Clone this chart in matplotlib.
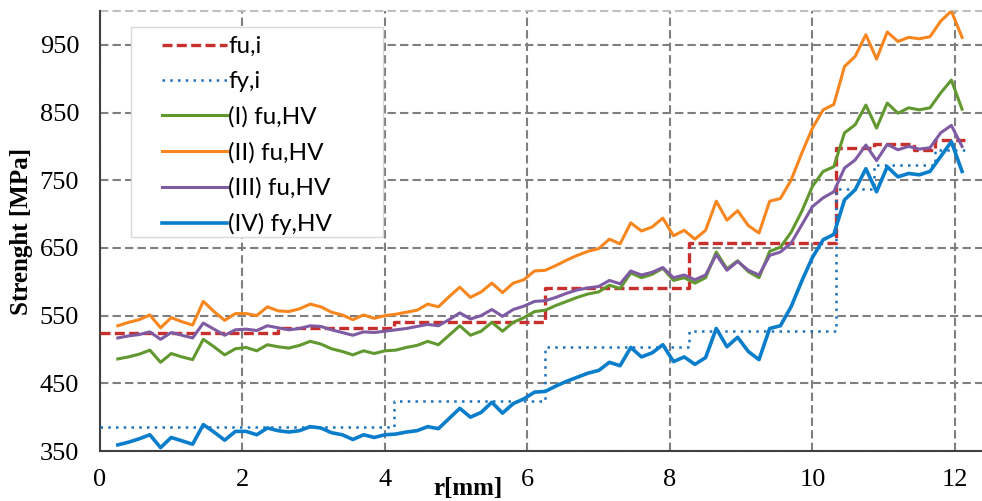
import numpy as np
import matplotlib
matplotlib.use("Agg")
import matplotlib.pyplot as plt
from matplotlib.patches import Rectangle

# radius of the hardness readings, mm (step 0.15)
r_mm = np.round(0.25 + 0.15 * np.arange(80), 2)

# (I) fu,HV
fu_hv1 = [486, 489, 493, 499, 481, 494, 489, 485, 515, 504, 492, 501, 503, 498, 507, 504,
          502, 506, 512, 508, 501, 497, 492, 498, 494, 498, 499, 503, 506, 512, 507, 521, 535,
          521, 527, 540, 527, 540, 547, 556, 558, 565, 571, 577, 582, 585, 595, 590, 613,
          606, 611, 620, 602, 606, 598, 606, 644, 619, 631, 615, 606, 645, 651, 673, 704,
          741, 763, 770, 820, 832, 861, 827, 864, 849, 857, 854, 857, 879, 898, 855]
# (II) fu,HV
fu_hv2 = [535, 540, 544, 551, 532, 547, 541, 536, 571, 556, 543, 553, 553, 550, 563, 557,
          556, 560, 567, 563, 555, 551, 544, 551, 546, 550, 552, 555, 558, 567, 563, 578, 592,
          577, 585, 598, 584, 598, 603, 616, 617, 624, 632, 639, 645, 649, 663, 656, 687,
          675, 681, 694, 668, 676, 663, 676, 719, 691, 705, 683, 672, 719, 723, 750, 790,
          827, 854, 862, 918, 933, 965, 929, 969, 955, 961, 959, 962, 985, 1000, 961]
# (III) fu,HV
fu_hv3 = [517, 520, 522, 526, 515, 525, 521, 517, 539, 530, 521, 529, 530, 528, 535, 532,
          529, 531, 535, 534, 529, 525, 521, 526, 525, 527, 529, 531, 534, 537, 535, 544, 554,
          545, 550, 559, 549, 559, 564, 571, 572, 577, 583, 588, 591, 593, 602, 597, 616,
          610, 614, 621, 606, 610, 603, 610, 640, 617, 630, 617, 610, 639, 644, 657, 684,
          711, 724, 733, 768, 780, 802, 779, 803, 795, 800, 796, 798, 820, 831, 800]
# (IV) fy,HV
fy_hv4 = [359, 363, 368, 374, 355, 370, 365, 360, 389, 378, 366, 379, 379, 374, 384, 380,
          378, 380, 386, 384, 377, 374, 367, 374, 370, 374, 375, 378, 380, 386, 383, 398, 413,
          400, 407, 422, 406, 420, 427, 437, 438, 446, 453, 459, 465, 469, 481, 476, 503,
          489, 495, 507, 482, 489, 478, 488, 531, 504, 518, 497, 485, 531, 535, 563, 601,
          636, 662, 670, 721, 736, 767, 733, 770, 755, 760, 758, 763, 785, 807, 763]

# layer boundaries and layer strengths
layer_edges = [0, 2.5, 4.12, 6.24, 8.27, 10.33, 10.86, 11.42, 11.72, 12.14]
fu_i = [524, 532, 540, 591, 658, 797, 804, 794, 809]
fy_i = [385, 385, 424, 504, 527, 737, 772, 772, 795]

plt.rcParams['font.family'] = ['Liberation Serif', 'DejaVu Serif']

fig = plt.figure(figsize=(9.82, 5.01), dpi=100)
ax = fig.add_axes([100 / 982, 50 / 501, 882 / 982, 440 / 501])

ax.step(layer_edges, fu_i + [fu_i[-1]], where='post', color='#C8302E',
        lw=2.4, linestyle=(0, (3, 1.3)), label='fu,i', zorder=3)
ax.step(layer_edges, fy_i + [fy_i[-1]], where='post', color='#1C72BA',
        lw=1.8, linestyle=(0, (1, 2.1)), label='fy,i', zorder=3)
ax.plot(r_mm, fu_hv1, color='#61982F', lw=2.2, label='(I) fu,HV', zorder=4)
ax.plot(r_mm, fu_hv2, color='#F7861F', lw=2.2, label='(II) fu,HV', zorder=4)
ax.plot(r_mm, fu_hv3, color='#7E5BA3', lw=2.2, label='(III) fu,HV', zorder=4)
ax.plot(r_mm, fy_hv4, color='#0A7DCB', lw=2.6, label='(IV) fy,HV', zorder=4)

ax.set_xlim(0, 12.38)
ax.set_ylim(350, 1000)
ax.set_xticks(range(0, 13, 2))
ax.set_yticks(range(350, 951, 100))
ax.tick_params(length=0, labelsize=19)
ax.tick_params(axis='y', pad=15)
ax.tick_params(axis='x', pad=13)

ax.grid(True, color='#7F7F7F', linestyle=(0, (4, 2)), linewidth=1.5, zorder=1)
ax.set_axisbelow(True)
ax.axhline(1000, color='#BFBFBF', linestyle=(0, (4, 2)), linewidth=1.5, clip_on=False)
for s in ['top', 'right']:
    ax.spines[s].set_visible(False)
for s in ['left', 'bottom']:
    ax.spines[s].set_color('#404040')
    ax.spines[s].set_linewidth(1.5)

# white legend box over the grid
ax.add_patch(Rectangle((0.0351, 0.4864), 0.2857, 0.4773, transform=ax.transAxes,
                       facecolor='white', edgecolor='#D9D9D9', lw=1.0, zorder=2.5))
leg = ax.legend(loc='upper left', bbox_to_anchor=(0.0703, 0.943), frameon=False,
                borderpad=0, borderaxespad=0, handlelength=2.67, handletextpad=0.05,
                labelspacing=0.58, prop={'family': 'Lato', 'size': 17.5})
leg.set_zorder(5)

fig.text(22 / 982, 1 - 231 / 501, 'Strenght [MPa]', rotation=90, fontsize=18,
         fontweight='bold', ha='center', va='center')
fig.text(468 / 982, 1 - 488 / 501, 'r[mm]', fontsize=18, fontweight='bold',
         ha='center', va='center')

fig.savefig('out.png', dpi=100)
